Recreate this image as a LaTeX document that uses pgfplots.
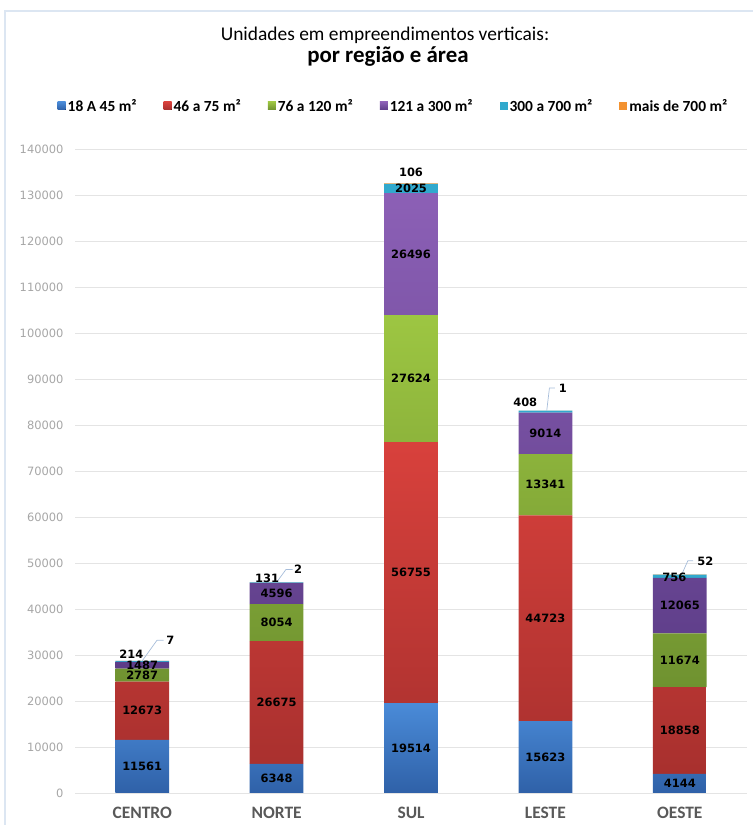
\documentclass[border=0pt]{standalone}
\usepackage{pgfplots}
\pgfplotsset{compat=1.18}
\usepackage{fontspec}
\setmainfont{Carlito}
\newfontfamily\dejavu{DejaVu Sans}
\definecolor{blueT}{HTML}{4A8BD8}
\definecolor{blueB}{HTML}{2F61A8}
\definecolor{redT}{HTML}{D8413C}
\definecolor{redB}{HTML}{A8302E}
\definecolor{greenT}{HTML}{9DC642}
\definecolor{greenB}{HTML}{6F9230}
\definecolor{purpT}{HTML}{8C60B6}
\definecolor{purpB}{HTML}{5D3D88}
\definecolor{cyanc}{HTML}{31A9CD}
\definecolor{orangec}{HTML}{F39230}
\definecolor{gridc}{HTML}{E4E4E4}
\definecolor{tickc}{HTML}{A6A6A6}
\definecolor{catc}{HTML}{595959}
\definecolor{framec}{HTML}{DCE6F2}
\definecolor{leaderc}{HTML}{A7BDDA}
\begin{document}
\begin{tikzpicture}
\path[use as bounding box] (0bp,0bp) rectangle (753bp,825bp);
\draw[framec, line width=1.2bp] (5bp,0bp) -- (5bp,814bp) -- (753bp,814bp);
\node[font=\fontsize{19.5}{22}\selectfont, anchor=base] at (385bp,784.3bp) {Unidades em empreendimentos verticais:};
\node[font=\bfseries\fontsize{23}{26}\selectfont, anchor=base] at (388bp,762.3bp) {por região e área};
\begin{axis}[
  at={(75bp,32bp)}, anchor=south west,
  scale only axis, width=672bp, height=644bp,
  xmin=-0.5, xmax=4.5, ymin=0, ymax=140000,
  ybar stacked, bar width=0.4,
  xtick={0,1,2,3,4},
  xticklabels={CENTRO,NORTE,SUL,LESTE,OESTE},
  ytick={0,10000,20000,30000,40000,50000,60000,70000,80000,90000,100000,110000,120000,130000,140000},
  yticklabels={0,10000,20000,30000,40000,50000,60000,70000,80000,90000,100000,110000,120000,130000,140000},
  scaled y ticks=false,
  ymajorgrids, grid style={gridc, line width=0.9bp},
  axis line style={draw=none},
  major tick length=0pt,
  yticklabel style={font=\dejavu\fontsize{11.5}{13}\selectfont, text=tickc, xshift=-8bp},
  xticklabel style={font=\bfseries\fontsize{17.5}{20}\selectfont, text=catc, yshift=-11bp},
  legend columns=6,
  legend cell align=left,
  legend style={at={(0.474,1.067)}, anchor=center, draw=none, fill=none,
    font=\bfseries\fontsize{15.5}{18}\selectfont,
    /tikz/every even column/.append style={column sep=25bp}},
  legend image code/.code={\fill[#1] (-2bp,-4bp) rectangle (6bp,4bp);},
]
\addplot[draw=none, top color=blueT, bottom color=blueB] coordinates {(0,11561) (1,6348) (2,19514) (3,15623) (4,4144)};
\addlegendentry{18 A 45 m²}
\addplot[draw=none, top color=redT, bottom color=redB] coordinates {(0,12673) (1,26675) (2,56755) (3,44723) (4,18858)};
\addlegendentry{46 a 75 m²}
\addplot[draw=none, top color=greenT, bottom color=greenB] coordinates {(0,2787) (1,8054) (2,27624) (3,13341) (4,11674)};
\addlegendentry{76 a 120 m²}
\addplot[draw=none, top color=purpT, bottom color=purpB] coordinates {(0,1487) (1,4596) (2,26496) (3,9014) (4,12065)};
\addlegendentry{121 a 300 m²}
\addplot[draw=none, fill=cyanc] coordinates {(0,214) (1,131) (2,2025) (3,408) (4,756)};
\addlegendentry{300 a 700 m²}
\addplot[draw=none, fill=orangec] coordinates {(0,7) (1,2) (2,106) (3,1) (4,52)};
\addlegendentry{mais de 700 m²}
\end{axis}
\begin{axis}[
  at={(75bp,32bp)}, anchor=south west,
  scale only axis, width=672bp, height=644bp,
  xmin=-0.5, xmax=4.5, ymin=0, ymax=140000,
  hide axis, clip=false,
]
\addplot[leaderc, line width=0.7bp] coordinates {(0.0,28729) (0.11,33200) (0.16,33200)};
\addplot[leaderc, line width=0.7bp] coordinates {(1.0,45806) (1.07,48600) (1.12,48600)};
\addplot[leaderc, line width=0.7bp] coordinates {(3.01,83110) (3.03,88040) (3.07,88040)};
\addplot[leaderc, line width=0.7bp] coordinates {(4.015,47549) (4.06,50500) (4.10,50500)};
\addplot[draw=none, mark=none, nodes near coords, point meta=explicit symbolic,
  every node near coord/.append style={anchor=center, inner sep=0pt, text=black,
    font=\dejavu\bfseries\fontsize{11.5}{13}\selectfont}]
  table[row sep=\\, meta=lab] {
x y lab\\
0 5780.5 11561\\
0 17897.5 12673\\
0 25627.5 2787\\
0 27764.5 1487\\
-0.08 30200 214\\
0.21 33200 7\\
1 3174 6348\\
1 19685.5 26675\\
1 37050 8054\\
1 43375 4596\\
0.93 46600 131\\
1.16 48700 2\\
2 9757 19514\\
2 47891.5 56755\\
2 90081 27624\\
2 117141 26496\\
2 131401.5 2025\\
2 135000 106\\
3 7811.5 15623\\
3 37984.5 44723\\
3 67016.5 13341\\
3 78194 9014\\
2.85 85000 408\\
3.13 88040 1\\
4 2072 4144\\
4 13573 18858\\
4 28839 11674\\
4 40708.5 12065\\
3.96 46956 756\\
4.19 50435 52\\
};
\end{axis}
\end{tikzpicture}
\end{document}
